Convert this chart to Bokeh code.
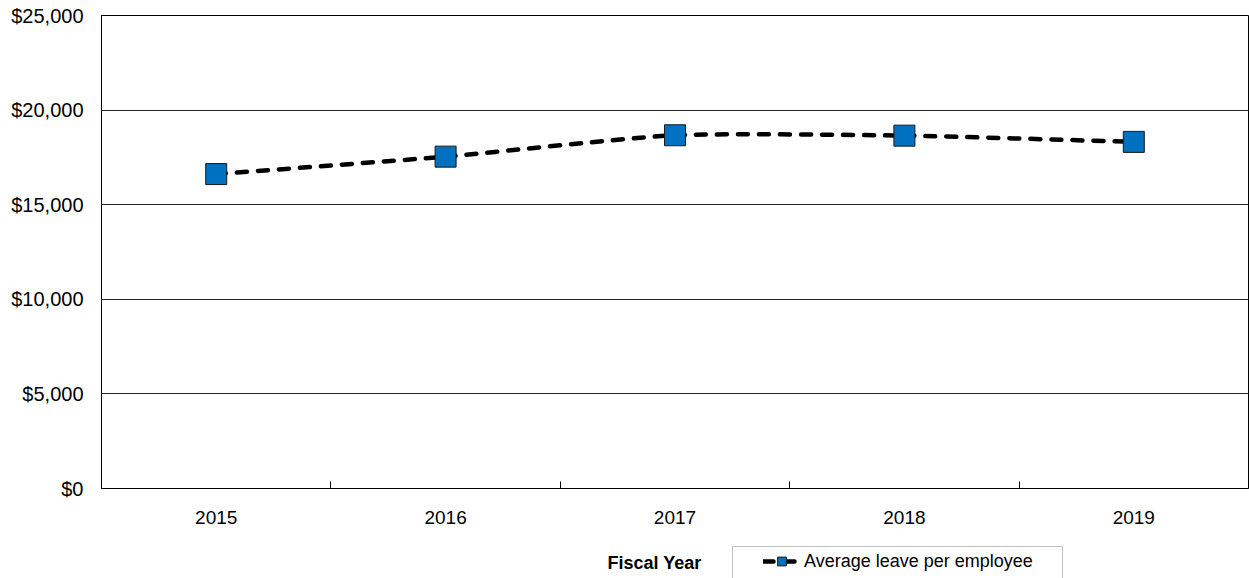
from bokeh.plotting import figure
from bokeh.layouts import column
from bokeh.models import (FixedTicker, NumeralTickFormatter, Range1d, Legend,
                          LegendItem, BoxAnnotation, ColumnDataSource, Label)
from bokeh.embed import file_html
from bokeh.resources import INLINE

# ---- data ----
years = ["2015", "2016", "2017", "2018", "2019"]
avg_leave = [16620, 17540, 18670, 18650, 18320]
y_ticks = [0, 5000, 10000, 15000, 20000, 25000]
series_name = "Average leave per employee"
x_title = "Fiscal Year"

n = len(years)
xs = [i + 0.5 for i in range(n)]
TENSION = 1 / 10


def ext(arr, i):
    return arr[max(0, min(len(arr) - 1, i))]


# smooth curve: cardinal spline -> cubic Bezier segments computed from the data
seg = dict(x0=[], y0=[], x1=[], y1=[], cx0=[], cy0=[], cx1=[], cy1=[])
for i in range(n - 1):
    seg["x0"].append(xs[i]); seg["y0"].append(avg_leave[i])
    seg["x1"].append(xs[i + 1]); seg["y1"].append(avg_leave[i + 1])
    seg["cx0"].append(xs[i] + (ext(xs, i + 1) - ext(xs, i - 1)) * TENSION)
    seg["cy0"].append(avg_leave[i] + (ext(avg_leave, i + 1) - ext(avg_leave, i - 1)) * TENSION)
    seg["cx1"].append(xs[i + 1] - (ext(xs, i + 2) - ext(xs, i)) * TENSION)
    seg["cy1"].append(avg_leave[i + 1] - (ext(avg_leave, i + 2) - ext(avg_leave, i)) * TENSION)

FONT = "Liberation Sans"
LINE_KW = dict(line_color="#000000", line_width=4.5, line_dash="10 11",
               line_cap="round")
MARK_KW = dict(marker="square", size=21, fill_color="#0070C0",
               line_color="#1a1a1a", line_width=1)

# ---------------- main chart ----------------
p = figure(width=1249, height=540, output_backend="svg", toolbar_location=None,
           x_range=Range1d(0, n), y_range=Range1d(y_ticks[0], y_ticks[-1]),
           min_border_left=101, min_border_right=1, min_border_top=15,
           min_border_bottom=52)
p.background_fill_color = "white"
p.border_fill_color = "white"
p.outline_line_color = "#000000"
p.outline_line_width = 1

p.xgrid.visible = False
p.ygrid.ticker = FixedTicker(ticks=y_ticks)
p.ygrid.grid_line_color = "#262626"
p.ygrid.grid_line_width = 1

xa = p.xaxis[0]
xa.ticker = FixedTicker(ticks=xs, minor_ticks=[i for i in range(1, n)])
xa.major_label_overrides = {x: y for x, y in zip(xs, years)}
xa.major_tick_in = 0
xa.major_tick_out = 0
xa.minor_tick_in = 7
xa.minor_tick_out = 0
xa.minor_tick_line_color = "#000000"
xa.axis_line_color = "#000000"
xa.major_label_text_font = FONT
xa.major_label_text_font_size = "19px"
xa.major_label_text_color = "#000000"
xa.major_label_standoff = 22

ya = p.yaxis[0]
ya.ticker = FixedTicker(ticks=y_ticks)
ya.formatter = NumeralTickFormatter(format="$0,0")
ya.major_tick_in = 0
ya.major_tick_out = 0
ya.minor_tick_line_color = None
ya.axis_line_color = "#000000"
ya.major_label_text_font = FONT
ya.major_label_text_font_size = "20px"
ya.major_label_text_color = "#000000"
ya.major_label_standoff = 18

p.bezier(x0="x0", y0="y0", x1="x1", y1="y1", cx0="cx0", cy0="cy0",
         cx1="cx1", cy1="cy1", source=ColumnDataSource(seg), **LINE_KW)
p.scatter(x="x", y="y", source=ColumnDataSource(dict(x=xs, y=avg_leave)),
          **MARK_KW)

# ---------------- strip below: axis title + legend ----------------
# (its frame is aligned with the main chart's frame, which starts at x=101)
q = figure(width=1249, height=38, output_backend="svg", toolbar_location=None,
           x_range=Range1d(0, n), y_range=Range1d(-2, -1),
           min_border=0, x_axis_location=None, y_axis_location=None)
q.outline_line_color = None
q.grid.visible = False
q.background_fill_color = "white"
q.border_fill_color = "white"
# same series (outside this strip's view) so the legend can show its glyphs
lr = q.line(x=xs, y=avg_leave, **LINE_KW)
mr = q.scatter(x=xs, y=avg_leave, **MARK_KW)

q.add_layout(Label(x=553, y=16, x_units="screen", y_units="screen",
                   text=x_title, text_align="center", text_baseline="middle",
                   text_font=FONT, text_font_size="18px",
                   text_font_style="bold", text_color="#000000"))

leg = Legend(items=[LegendItem(label=series_name, renderers=[lr, mr])],
             location=(660, 4), padding=2, spacing=0, margin=0,
             glyph_width=37, glyph_height=22, label_height=22,
             label_standoff=4, border_line_alpha=0, background_fill_alpha=0,
             label_text_font=FONT, label_text_font_size="18px",
             label_text_color="#000000")
q.add_layout(leg, "center")

q.add_layout(BoxAnnotation(left=732, right=1062, top=6, bottom=60,
                           left_units="canvas", right_units="canvas",
                           top_units="canvas", bottom_units="canvas",
                           fill_alpha=0, line_color="#333333", line_width=1))

open("out.html", "w").write(file_html(column(p, q, spacing=0), INLINE))
